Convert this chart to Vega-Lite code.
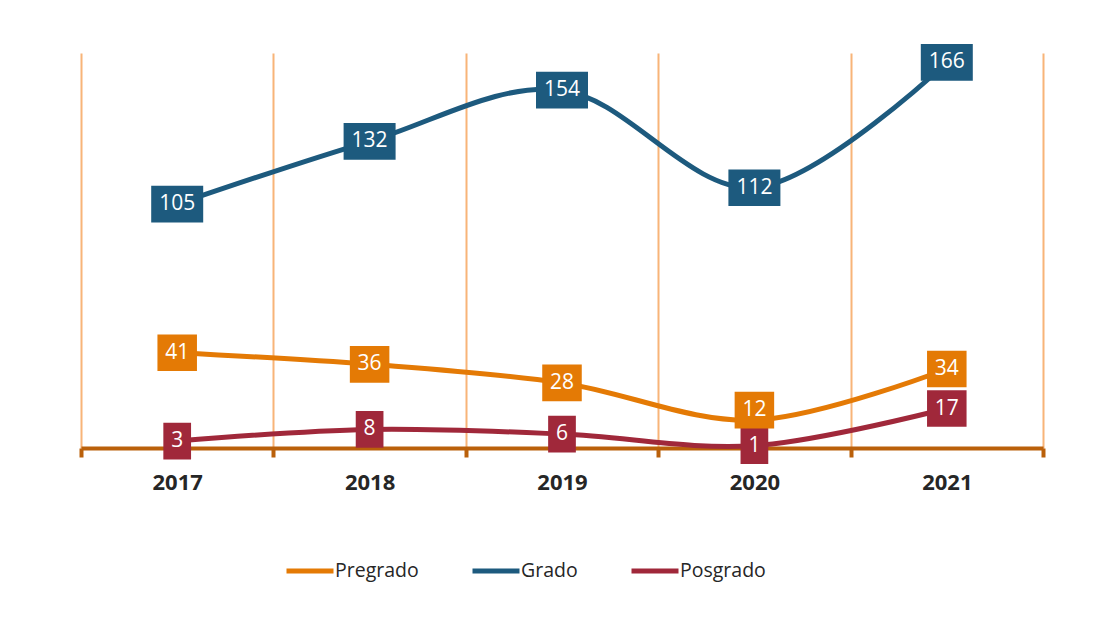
{
  "$schema": "https://vega.github.io/schema/vega-lite/v6.json",
  "width": 962,
  "height": 395,
  "autosize": {"type": "none"},
  "padding": {"left": 81, "top": 53, "right": 73, "bottom": 170},
  "background": "white",
  "config": {"view": {"stroke": null}, "font": "Open Sans"},
  "data": {
    "values": [
      {"year": 2017, "series": "Pregrado", "value": 41},
      {"year": 2018, "series": "Pregrado", "value": 36},
      {"year": 2019, "series": "Pregrado", "value": 28},
      {"year": 2020, "series": "Pregrado", "value": 12},
      {"year": 2021, "series": "Pregrado", "value": 34},
      {"year": 2017, "series": "Grado", "value": 105},
      {"year": 2018, "series": "Grado", "value": 132},
      {"year": 2019, "series": "Grado", "value": 154},
      {"year": 2020, "series": "Grado", "value": 112},
      {"year": 2021, "series": "Grado", "value": 166},
      {"year": 2017, "series": "Posgrado", "value": 3},
      {"year": 2018, "series": "Posgrado", "value": 8},
      {"year": 2019, "series": "Posgrado", "value": 6},
      {"year": 2020, "series": "Posgrado", "value": 1},
      {"year": 2021, "series": "Posgrado", "value": 17}
    ]
  },
  "encoding": {
    "x": {
      "field": "year",
      "type": "quantitative",
      "scale": {"domain": [2016.5, 2021.5], "nice": false, "zero": false},
      "axis": {
        "values": [2016.5, 2017.5, 2018.5, 2019.5, 2020.5, 2021.5],
        "title": null,
        "labelExpr": "datum.value < 2021 ? '' + (datum.value + 0.5) : ''",
        "labelOffset": 96.2,
        "labelFlush": false,
        "labelOverlap": false,
        "labelBound": false,
        "labelFont": "Open Sans",
        "labelFontSize": 22,
        "labelFontWeight": "bold",
        "labelColor": "#262626",
        "labelPadding": 15,
        "domainColor": "#BA600A",
        "domainWidth": 4,
        "tickColor": "#BA600A",
        "tickWidth": 4,
        "tickSize": 9,
        "grid": true,
        "gridColor": "#F8B478",
        "gridWidth": 2
      }
    },
    "y": {
      "field": "value",
      "type": "quantitative",
      "scale": {"domain": [0, 170], "nice": false, "zero": false},
      "axis": null
    },
    "color": {
      "field": "series",
      "type": "nominal",
      "scale": {"domain": ["Pregrado", "Grado", "Posgrado"], "range": ["#E47A05", "#1D5A7E", "#A0283A"]},
      "legend": {
        "orient": "none",
        "legendX": 203,
        "legendY": 492,
        "direction": "horizontal",
        "title": null,
        "labelFont": "Open Sans",
        "labelFontSize": 19.5,
        "labelColor": "#262626",
        "symbolType": "stroke",
        "symbolSize": 2209,
        "symbolStrokeWidth": 5,
        "columnPadding": 43,
        "labelOffset": -1,
        "padding": 0
      }
    }
  },
  "layer": [
    {
      "mark": {"type": "line", "interpolate": "cardinal", "strokeWidth": 5, "strokeCap": "round"}
    },
    {
      "transform": [{"filter": "!(datum.year === 2020 && datum.series === 'Pregrado')"}],
      "mark": {"type": "point", "filled": true, "opacity": 1, "size": 2704, "strokeWidth": 0},
      "encoding": {
        "shape": {
          "condition": [
            {"test": "datum.value >= 100", "value": "M-1,-0.706L1,-0.706L1,0.706L-1,0.706Z"},
            {"test": "datum.value >= 10", "value": "M-0.76,-0.706L0.76,-0.706L0.76,0.706L-0.76,0.706Z"}
          ],
          "value": "M-0.533,-0.706L0.533,-0.706L0.533,0.706L-0.533,0.706Z"
        }
      }
    },
    {
      "transform": [{"filter": "datum.year === 2020 && datum.series === 'Pregrado'"}],
      "mark": {"type": "point", "filled": true, "opacity": 1, "size": 2704, "strokeWidth": 0, "yOffset": -10},
      "encoding": {
        "shape": {
          "condition": [
            {"test": "datum.value >= 100", "value": "M-1,-0.706L1,-0.706L1,0.706L-1,0.706Z"},
            {"test": "datum.value >= 10", "value": "M-0.76,-0.706L0.76,-0.706L0.76,0.706L-0.76,0.706Z"}
          ],
          "value": "M-0.533,-0.706L0.533,-0.706L0.533,0.706L-0.533,0.706Z"
        }
      }
    },
    {
      "transform": [{"filter": "!(datum.year === 2020 && datum.series === 'Pregrado')"}],
      "mark": {"type": "text", "color": "white", "fontSize": 21, "font": "Open Sans", "baseline": "middle", "align": "center"},
      "encoding": {
        "text": {"field": "value", "type": "quantitative"},
        "color": {"value": "white"}
      }
    },
    {
      "transform": [{"filter": "datum.year === 2020 && datum.series === 'Pregrado'"}],
      "mark": {"type": "text", "color": "white", "fontSize": 21, "font": "Open Sans", "baseline": "middle", "align": "center", "yOffset": -10},
      "encoding": {
        "text": {"field": "value", "type": "quantitative"},
        "color": {"value": "white"}
      }
    }
  ]
}
